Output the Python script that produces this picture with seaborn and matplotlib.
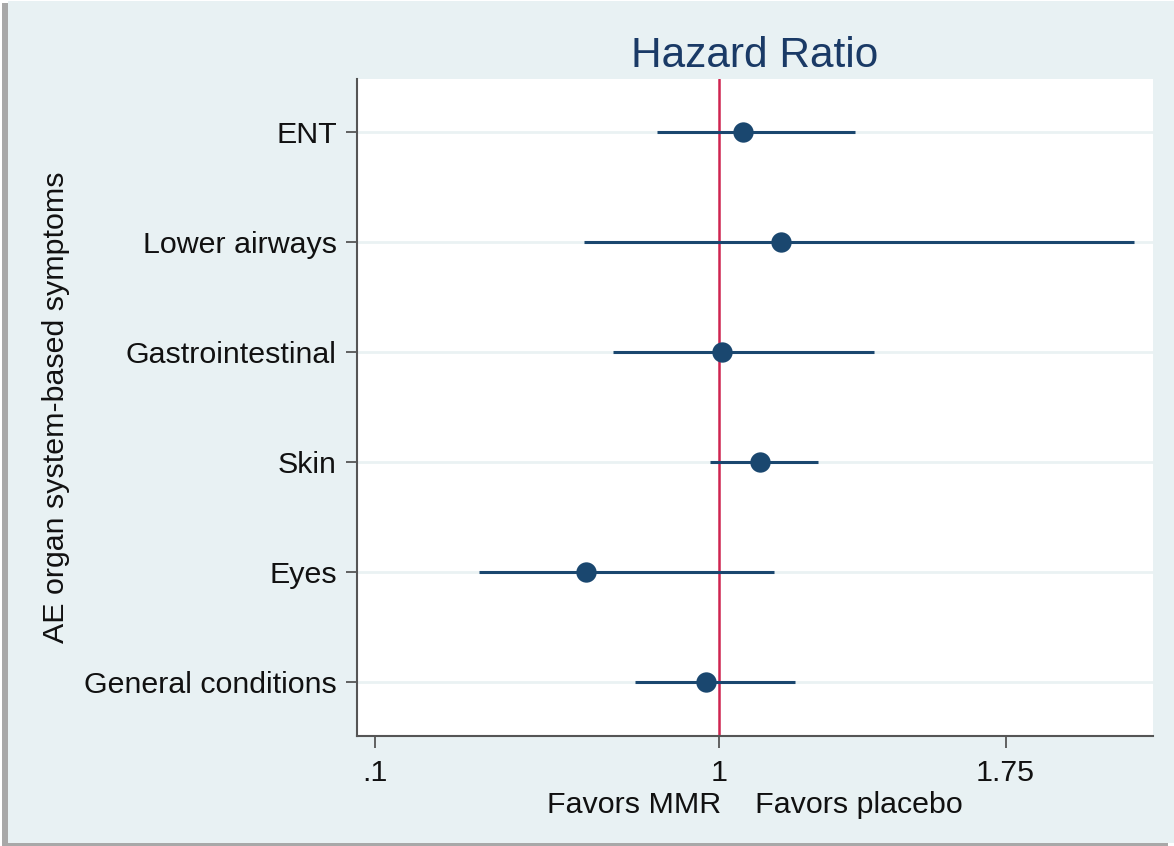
import numpy as np
import pandas as pd
import matplotlib
matplotlib.use("Agg")
import matplotlib.pyplot as plt
from matplotlib.patches import Rectangle
import seaborn as sns

categories = ["ENT", "Lower airways", "Gastrointestinal", "Skin", "Eyes", "General conditions"]
hazard_ratio = [1.063, 1.161, 1.008, 1.107, 0.652, 0.966]
ci_low = [0.838, 0.647, 0.723, 0.976, 0.372, 0.780]
ci_high = [1.356, 2.086, 1.406, 1.259, 1.144, 1.199]
x_ticks = [0.1, 1.0, 1.75]
x_tick_labels = [".1", "1", "1.75"]

sns.set_theme(style="white")
plt.rcParams["font.family"] = ["Liberation Sans", "DejaVu Sans"]

navy = "#1a476f"
red = "#cf2450"
panel_bg = "#e8f1f3"
grid_c = "#eaf2f3"
spine_c = "#555555"
fs = 21.9

n = len(categories)
df = pd.DataFrame({
    "category": categories,
    "hr": hazard_ratio,
    "lo": ci_low,
    "hi": ci_high,
})
df["pos"] = n - 1 - np.arange(n)

fig = plt.figure(figsize=(11.74, 8.46), dpi=100, facecolor="white")
W, H = 1174, 846
# shadow and panel
fig.patches.append(Rectangle((2 / W, 0), 1166 / W, 843 / H, transform=fig.transFigure,
                             facecolor="#a8a8a8", edgecolor="none", zorder=-3))
fig.patches.append(Rectangle((8 / W, 3 / H), 1166 / W, 842 / H, transform=fig.transFigure,
                             facecolor=panel_bg, edgecolor="none", zorder=-2))

ax = fig.add_axes([357 / W, 1 - 736 / H, (1153 - 357) / W, (736 - 79) / H])
ax.set_facecolor("white")

# grid lines at categories
for p in df["pos"]:
    ax.axhline(p, color=grid_c, lw=2, zorder=0)

# reference line
ax.axvline(1.0, color=red, lw=1.8, zorder=1)

# CIs
ax.hlines(df["pos"], df["lo"], df["hi"], color=navy, lw=2.2, zorder=2)

# points
sns.scatterplot(data=df, x="hr", y="pos", ax=ax, s=215, color=navy,
                edgecolor=navy, linewidth=0, zorder=3, legend=False)

ax.set_xlim(0.0524, 2.136)
ax.set_ylim(-0.49, 5.48)
ax.set_xticks(x_ticks)
ax.set_xticklabels(x_tick_labels)
ax.set_yticks(df["pos"])
ax.set_yticklabels(df["category"])

for s in ["top", "right"]:
    ax.spines[s].set_visible(False)
for s in ["left", "bottom"]:
    ax.spines[s].set_color(spine_c)
    ax.spines[s].set_linewidth(1.5)

ax.tick_params(axis="x", which="major", length=8.5, width=1.3, color=spine_c,
               pad=8, labelsize=fs, labelcolor="#111111", bottom=True)
ax.tick_params(axis="y", which="major", length=8, width=1.3, color=spine_c,
               pad=6.5, labelsize=fs, labelcolor="#111111", left=True)

ax.set_title("Hazard Ratio", fontsize=30.5, color="#1a3a66", pad=9)
ax.set_xlabel("Favors MMR    Favors placebo", fontsize=fs, color="#111111", labelpad=3)
ax.set_ylabel("AE organ system-based symptoms", fontsize=fs, color="#111111", labelpad=10)

fig.savefig("out.png", dpi=100, facecolor=fig.get_facecolor())
